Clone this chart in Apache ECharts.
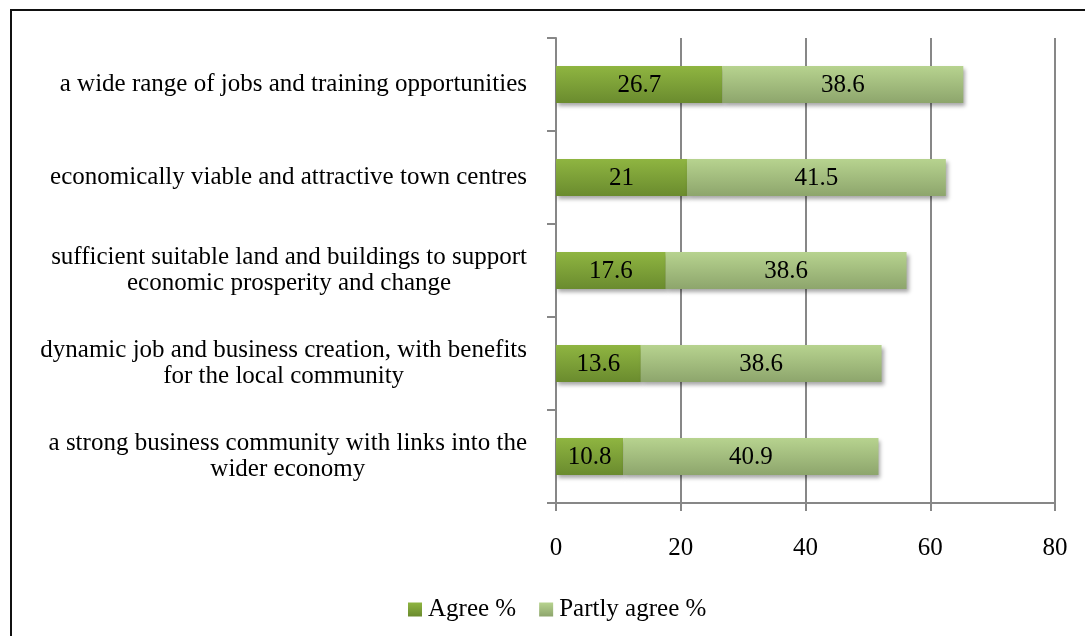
<!DOCTYPE html>
<html>
<head>
<meta charset="utf-8">
<style>
  html, body { margin: 0; padding: 0; background: #fff; }
  #chart { width: 1085px; height: 636px; }
</style>
<script src="https://cdn.jsdelivr.net/npm/echarts@6/dist/echarts.min.js"></script>
</head>
<body>
<div id="chart"></div>
<script>
// Survey statements, listed top to bottom
const categories = [
  'a wide range of jobs and training opportunities',
  'economically viable and attractive town centres',
  'sufficient suitable land and buildings to support\neconomic prosperity and change',
  'dynamic job and business creation, with benefits\nfor the local community',
  'a strong business community with links into the\nwider economy'
];
const agree = [26.7, 21, 17.6, 13.6, 10.8];
const partlyAgree = [38.6, 41.5, 38.6, 38.6, 40.9];
const seriesNames = ['Agree %', 'Partly agree %'];
const xTicks = { min: 0, max: 80, interval: 20 };

const FONT = '"Liberation Serif", "Times New Roman", serif';
const FONT_SIZE = 25;
const GRID_COLOR = '#878787';

function vGrad(top, bottom) {
  return new echarts.graphic.LinearGradient(0, 0, 0, 1, [
    { offset: 0, color: top },
    { offset: 1, color: bottom }
  ]);
}

const barShadow = {
  shadowColor: 'rgba(0,0,0,0.35)',
  shadowBlur: 4,
  shadowOffsetX: 2,
  shadowOffsetY: 3
};

const valueLabel = {
  show: true,
  position: 'inside',
  offset: [0, 1],
  color: '#000',
  fontFamily: FONT,
  fontSize: FONT_SIZE
};

const chart = echarts.init(document.getElementById('chart'), null, { renderer: 'canvas' });

chart.setOption({
  backgroundColor: '#fff',
  animation: false,
  graphic: [{
    type: 'rect',
    shape: { x: 11, y: 10, width: 2000, height: 2000 },
    style: { fill: 'none', stroke: '#111', lineWidth: 2 },
    z: 100
  }],
  grid: { left: 556, right: 30, top: 38, bottom: 133, containLabel: false },
  legend: {
    top: 592,
    left: 403,
    itemWidth: 14,
    itemHeight: 14,
    itemGap: 23,
    icon: 'rect',
    textStyle: { fontFamily: FONT, fontSize: FONT_SIZE, color: '#000', padding: [0, 0, 0, 1] },
    data: seriesNames
  },
  xAxis: {
    type: 'value',
    min: xTicks.min,
    max: xTicks.max,
    interval: xTicks.interval,
    axisLine: { show: true, lineStyle: { color: GRID_COLOR, width: 2 } },
    axisTick: { show: true, length: 8, lineStyle: { color: GRID_COLOR, width: 2 } },
    splitLine: { show: true, lineStyle: { color: GRID_COLOR, width: 2 } },
    axisLabel: { color: '#000', fontFamily: FONT, fontSize: FONT_SIZE, margin: 33 }
  },
  yAxis: {
    type: 'category',
    inverse: true,
    data: categories,
    axisLine: { show: true, lineStyle: { color: GRID_COLOR, width: 2 } },
    axisTick: { show: true, length: 9, inside: false, lineStyle: { color: GRID_COLOR, width: 2 } },
    axisLabel: {
      color: '#000',
      fontFamily: FONT,
      fontSize: FONT_SIZE,
      lineHeight: 26,
      margin: 29,
      align: 'right',
      formatter: function (value) {
        return value.split('\n').map(function (line) { return '{c|' + line + '}'; }).join('\n');
      },
      rich: {
        c: { align: 'center', color: '#000', fontFamily: FONT, fontSize: FONT_SIZE, lineHeight: 26 }
      }
    }
  },
  series: [
    {
      name: seriesNames[0],
      type: 'bar',
      stack: 'total',
      barWidth: '40%',
      data: agree,
      label: valueLabel,
      itemStyle: Object.assign({ color: vGrad('#8fb541', '#6a8b2e') }, barShadow)
    },
    {
      name: seriesNames[1],
      type: 'bar',
      stack: 'total',
      barWidth: '40%',
      data: partlyAgree,
      label: valueLabel,
      itemStyle: Object.assign({ color: vGrad('#b7d38f', '#8da56c') }, barShadow)
    }
  ]
});
</script>
</body>
</html>
